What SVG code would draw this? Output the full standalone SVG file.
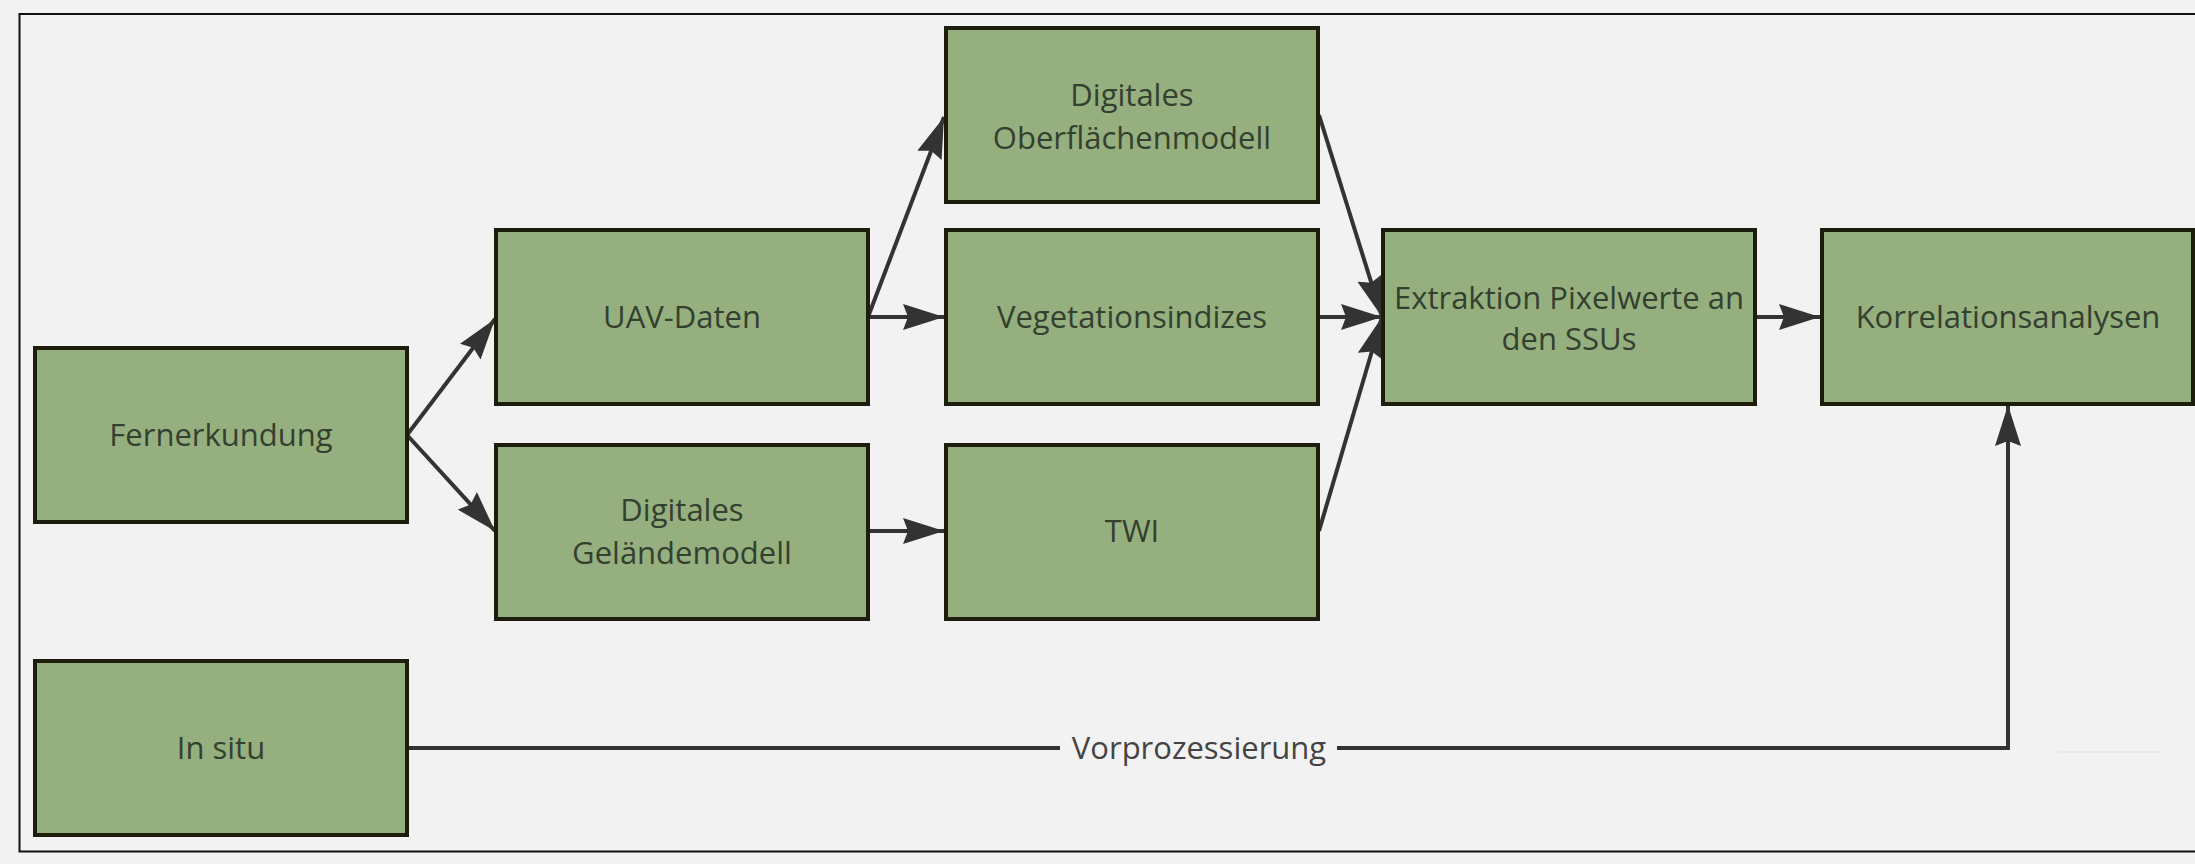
<svg xmlns="http://www.w3.org/2000/svg" width="2195" height="864" viewBox="0 0 2195 864">
<style>
.box{fill:#95b07e;stroke:#1d1d0e;stroke-width:4}
.lbl{font-family:"Open Sans","Liberation Sans",sans-serif;font-size:31px;fill:#34402f;text-anchor:middle}
.con{fill:none;stroke:#333333;stroke-width:4}
.el{font-family:"Open Sans","Liberation Sans",sans-serif;font-size:31px;fill:#444444;text-anchor:middle}
</style>
<defs>
<marker id="arr" markerUnits="userSpaceOnUse" markerWidth="42" markerHeight="26" refX="41" refY="13" orient="auto" viewBox="0 0 42 26">
<path d="M0,0 L41,13 L0,26 L5,13 z" fill="#333333"/>
</marker>
</defs>
<rect x="0" y="0" width="2195" height="864" fill="#f2f2f2"/>
<rect x="19.5" y="14" width="2200" height="837.5" fill="none" stroke="#111111" stroke-width="2"/>
<g id="connectors">
<line class="con" x1="407" y1="435" x2="495" y2="319" marker-end="url(#arr)"/>
<line class="con" x1="407" y1="435" x2="495" y2="531" marker-end="url(#arr)"/>
<line class="con" x1="868" y1="317" x2="944" y2="117" marker-end="url(#arr)"/>
<line class="con" x1="868" y1="317" x2="944" y2="317" marker-end="url(#arr)"/>
<line class="con" x1="868" y1="531" x2="944" y2="531" marker-end="url(#arr)"/>
<line class="con" x1="1319" y1="115" x2="1382" y2="317" marker-end="url(#arr)"/>
<line class="con" x1="1319" y1="317" x2="1382" y2="317" marker-end="url(#arr)"/>
<line class="con" x1="1319" y1="531" x2="1382" y2="317" marker-end="url(#arr)"/>
<line class="con" x1="1756" y1="317" x2="1820" y2="317" marker-end="url(#arr)"/>
<path class="con" d="M407,748 H2008 V405" marker-end="url(#arr)"/>
<rect x="1060" y="730" width="277" height="36" fill="#f2f2f2"/>
<text class="el" x="1199" y="759">Vorprozessierung</text>
<line x1="2059" y1="752" x2="2161" y2="752" stroke="#e6e6e6" stroke-width="1.5"/>
</g>
<g id="fernerkundung">
<rect class="box" x="35" y="348" width="372" height="174"/>
<text class="lbl" x="221" y="446">Fernerkundung</text>
</g>
<g id="insitu">
<rect class="box" x="35" y="661" width="372" height="174"/>
<text class="lbl" x="221" y="759">In situ</text>
</g>
<g id="uav">
<rect class="box" x="496" y="230" width="372" height="174"/>
<text class="lbl" x="682" y="328">UAV-Daten</text>
</g>
<g id="dgm">
<rect class="box" x="496" y="445" width="372" height="174"/>
<text class="lbl" x="682" y="521">Digitales</text>
<text class="lbl" x="682" y="564">Geländemodell</text>
</g>
<g id="dom">
<rect class="box" x="946" y="28" width="372" height="174"/>
<text class="lbl" x="1132" y="106">Digitales</text>
<text class="lbl" x="1132" y="149">Oberflächenmodell</text>
</g>
<g id="veg">
<rect class="box" x="946" y="230" width="372" height="174"/>
<text class="lbl" x="1132" y="328">Vegetationsindizes</text>
</g>
<g id="twi">
<rect class="box" x="946" y="445" width="372" height="174"/>
<text class="lbl" x="1132" y="542">TWI</text>
</g>
<g id="extraktion">
<rect class="box" x="1383" y="230" width="372" height="174"/>
<text class="lbl" x="1569" y="309">Extraktion Pixelwerte an</text>
<text class="lbl" x="1569" y="350">den SSUs</text>
</g>
<g id="korrelation">
<rect class="box" x="1822" y="230" width="371" height="174"/>
<text class="lbl" x="2008" y="328">Korrelationsanalysen</text>
</g>
</svg>
